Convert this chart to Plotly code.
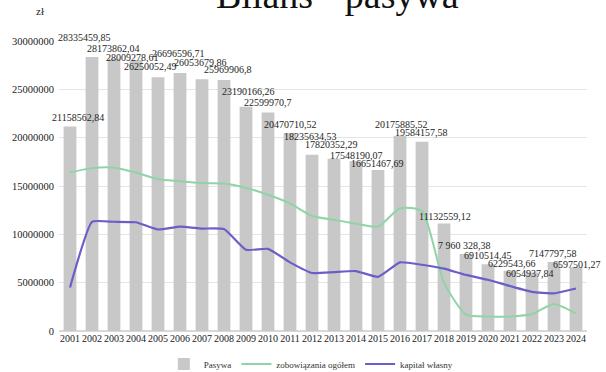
import plotly.graph_objects as go

# --- data -------------------------------------------------------------
years = [str(y) for y in range(2001, 2025)]

pasywa = [21158562.84, 28335459.85, 28173862.04, 28009278.61, 26250052.49,
          26696596.71, 26053679.86, 25969906.8, 23190166.26, 22599970.7,
          20470710.52, 18235634.53, 17820352.29, 17548190.07, 16651467.69,
          20175885.52, 19584157.58, 11132559.12, 7960328.38, 6910514.45,
          6229543.66, 6054937.84, 7147797.58, 6597501.27]

pasywa_labels = ["21158562,84", "28335459,85", "28173862,04", "28009278,61",
                 "26250052,49", "26696596,71", "26053679,86", "25969906,8",
                 "23190166,26", "22599970,7", "20470710,52", "18235634,53",
                 "17820352,29", "17548190,07", "16651467,69", "20175885,52",
                 "19584157,58", "11132559,12", "7 960 328,38", "6910514,45",
                 "6229543,66", "6054937,84", "7147797,58", "6597501,27"]

zobowiazania = [16400000, 16850000, 16900000, 16400000, 15700000, 15500000,
                15300000, 15250000, 14800000, 14100000, 13200000, 11900000,
                11500000, 11100000, 10800000, 12700000, 12400000, 5000000,
                1700000, 1500000, 1500000, 1750000, 2800000, 1800000]

kapital = [4500000, 11300000, 11300000, 11250000, 10500000, 10800000,
           10600000, 10550000, 8400000, 8500000, 7100000, 6000000,
           6100000, 6200000, 5600000, 7100000, 6850000, 6450000,
           5800000, 5300000, 4650000, 4050000, 3900000, 4400000]

y_ticks = [0, 5000000, 10000000, 15000000, 20000000, 25000000, 30000000]

# per-label pixel nudges (x, y) for the value annotations
label_dx = [8, -8, -1, -4, -8, -2, -2, 4, 2, 0, 0, -2,
            -3, 0, -1, 1, -1, 1, -2, 0, 2, -2, -1, 1]
label_dy = [9, 20, 10, 3, 11, 19, 17, 10, 15, 10, 9, 18,
            14, 6, 7, 11, 9, 7, 9, 9, 7, -1, 8, 3]

SERIF = "Liberation Serif, Times New Roman, serif"
BAR_GREY = "#c8c8c8"
GREEN = "#8ed5a6"
PURPLE = "#6a5ec8"

fig = go.Figure()

fig.add_trace(go.Bar(
    x=years, y=pasywa, name="Pasywa",
    marker=dict(color=BAR_GREY, line=dict(width=0)),
))
fig.add_trace(go.Scatter(
    x=years, y=zobowiazania, name="zobowiązania ogółem", mode="lines",
    line=dict(color=GREEN, width=2, shape="spline", smoothing=0.6),
))
fig.add_trace(go.Scatter(
    x=years, y=kapital, name="kapitał własny", mode="lines",
    line=dict(color=PURPLE, width=2.2, shape="spline", smoothing=0.4),
))

annotations = []
for i, (v, txt, dx, dy) in enumerate(zip(pasywa, pasywa_labels, label_dx, label_dy)):
    # category axis: annotation x is the category index
    annotations.append(dict(
        x=i, y=v, text=txt, showarrow=False,
        xanchor="center", yanchor="middle",
        xshift=dx, yshift=dy,
        font=dict(family=SERIF, size=10, color="#1e1e1e"),
    ))

# chart title and unit label
annotations.append(dict(
    x=0.528, xref="paper", xanchor="center",
    y=1.16, yref="paper", yanchor="middle",
    text="Bilans - pasywa", showarrow=False,
    font=dict(family=SERIF, size=38, color="#111111"),
))
annotations.append(dict(
    x=-0.036, xref="paper", xanchor="center",
    y=1.103, yref="paper", yanchor="middle",
    text="zł", showarrow=False,
    font=dict(family=SERIF, size=11, color="#222222"),
))

fig.update_layout(
    width=606, height=372,
    margin=dict(l=59, r=19, t=41, b=41, autoexpand=False),
    paper_bgcolor="white", plot_bgcolor="white",
    bargap=0.42,
    showlegend=True,
    legend=dict(
        orientation="h", x=0.477, xanchor="center", xref="paper",
        y=0.0215, yanchor="middle", yref="container",
        font=dict(family=SERIF, size=9, color="#333333"),
        itemwidth=30, tracegroupgap=0,
    ),
    annotations=annotations,
    font=dict(family=SERIF, color="#222222"),
)

fig.update_xaxes(
    type="category", range=[-0.5, len(years) - 0.5],
    showgrid=False, zeroline=False, showline=False, ticks="",
    tickangle=0, automargin=False,
    tickfont=dict(family=SERIF, size=10, color="#222222"),
)
fig.update_yaxes(
    range=[0, 30000000], tickvals=y_ticks,
    ticktext=[str(v) for v in y_ticks],
    showgrid=True, gridcolor="#e4e4e4", gridwidth=1,
    zeroline=True, zerolinecolor="#d8d8d8", automargin=False,
    tickfont=dict(family=SERIF, size=10.5, color="#222222"),
    ticks="", ticklabelstandoff=4,
)

fig.write_html("out.html")
